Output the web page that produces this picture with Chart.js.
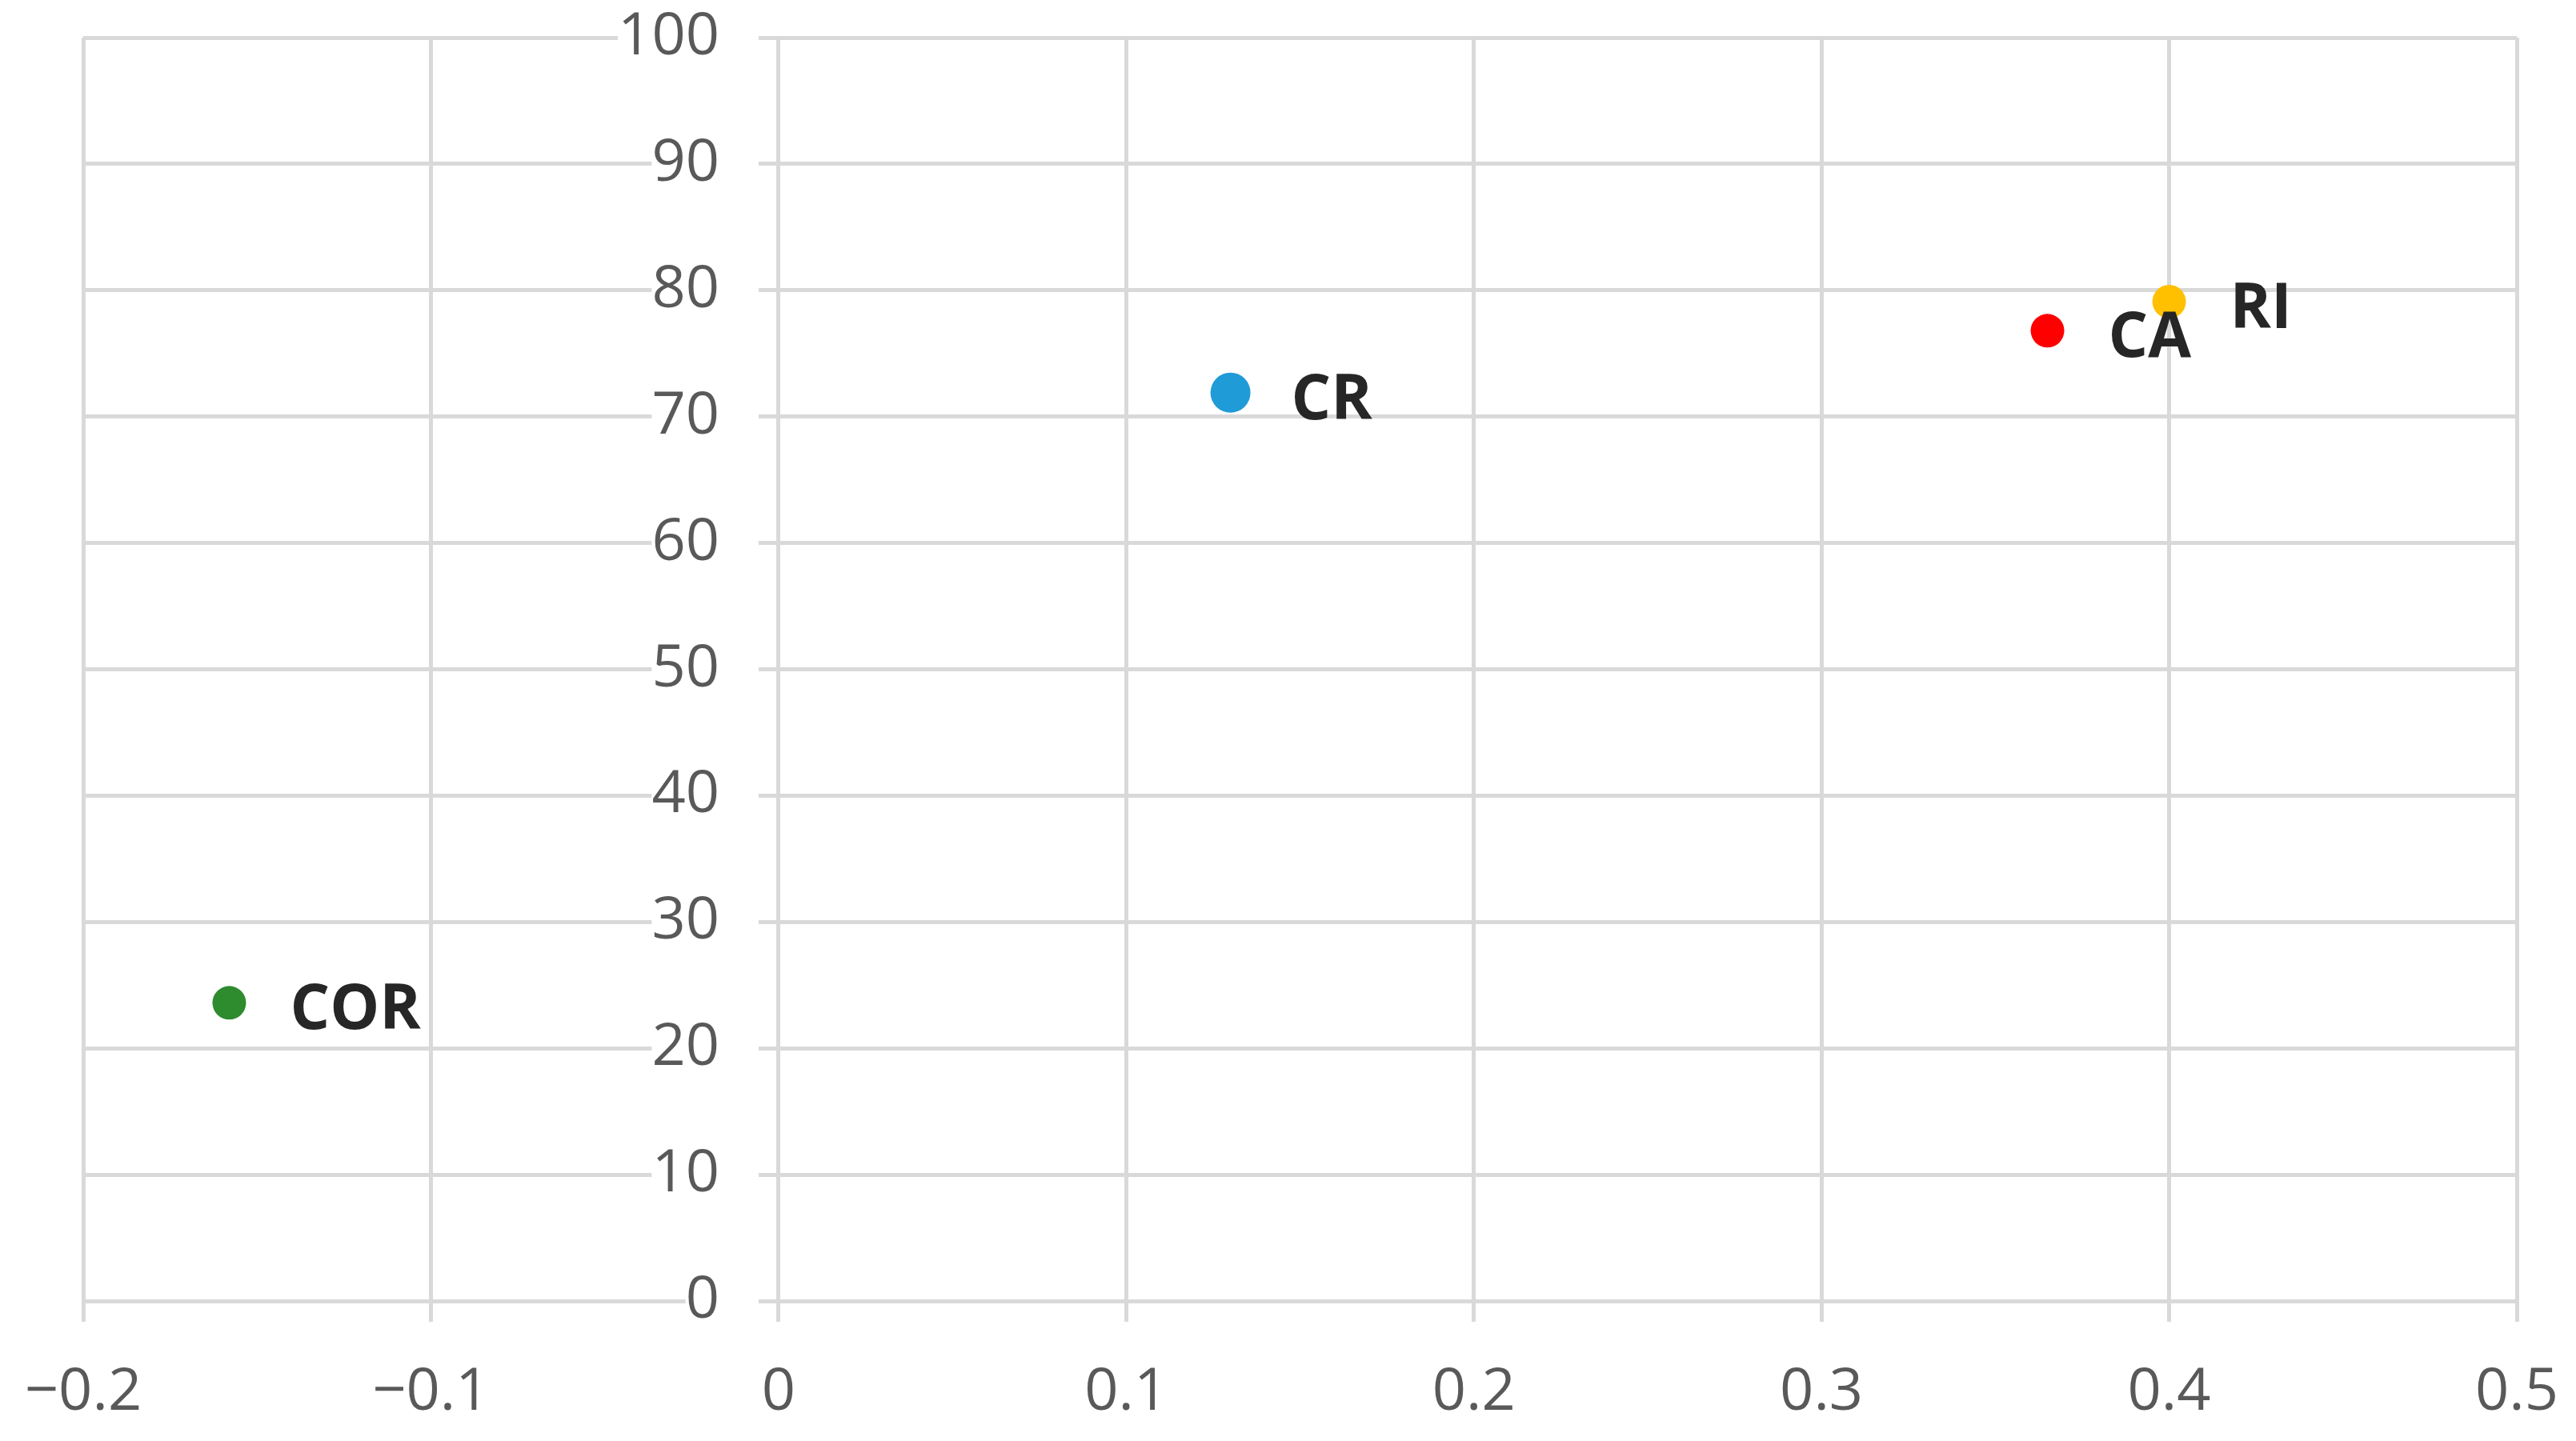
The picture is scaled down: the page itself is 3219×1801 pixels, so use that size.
<!DOCTYPE html>
<html>
<head>
<meta charset="utf-8">
<script src="https://cdn.jsdelivr.net/npm/chart.js@4/dist/chart.umd.min.js"></script>
<style>
  body { margin: 0; background: #fff; }
  #wrap { width: 3219px; height: 1801px; }
</style>
</head>
<body>
<div id="wrap"><canvas id="chart"></canvas></div>
<script>
// point names and values
const names = ['COR', 'CR', 'CA', 'RI'];
const xValues = [-0.158, 0.13, 0.365, 0.4];
const yValues = [23.6, 71.9, 76.8, 79.1];

// axis ranges / steps
const xMin = -0.2, xMax = 0.5, xStep = 0.1;
const yMin = 0, yMax = 100, yStep = 10;

// styles
const colors = ['#2e8b2e', '#1f9bd7', '#ff0000', '#ffc000'];
const radii = [21, 25, 21, 21];

const gridColor = '#d9d9d9';
const tickColor = '#595959';

const datasets = names.map((n, i) => ({
    label: n,
    data: [{x: xValues[i], y: yValues[i]}],
    backgroundColor: colors[i],
    borderWidth: 0,
    pointRadius: radii[i],
    pointHoverRadius: radii[i]
}));

// names next to the points, like excel data labels
const pointNames = {
    id: 'pointNames',
    afterDatasetsDraw(chart) {
        const ctx = chart.ctx;
        ctx.save();
        ctx.font = 'bold 78px "Open Sans"';
        ctx.fillStyle = '#262626';
        ctx.textAlign = 'left';
        ctx.textBaseline = 'alphabetic';
        chart.data.datasets.forEach((ds, i) => {
            const pt = chart.getDatasetMeta(i).data[0];
            ctx.fillText(ds.label, pt.x + 76, pt.y + 33);
        });
        ctx.restore();
    }
};

// no extra padding from the scales, layout.padding decides the plot box
function noPad(s) {
    s.paddingLeft = 0;
    s.paddingRight = 0;
    s.paddingTop = 0;
    s.paddingBottom = 0;
}

const config = {
    type: 'scatter',
    data: {datasets: datasets},
    options: {
        responsive: true,
        maintainAspectRatio: false,
        animation: false,
        layout: {padding: {top: 47, left: 104, right: 74, bottom: 0}},
        plugins: {
            legend: {display: false},
            tooltip: {enabled: false}
        },
        scales: {
            x: {
                type: 'linear',
                min: xMin,
                max: xMax,
                afterFit: s => { s.height = 175; noPad(s); },
                grid: {color: gridColor, lineWidth: 5, tickLength: 26, drawTicks: true},
                border: {color: gridColor, width: 5},
                ticks: {
                    stepSize: xStep,
                    color: tickColor,
                    padding: 45,
                    font: {family: '"Open Sans"', size: 74},
                    callback: v => String(Math.round(v * 10) / 10).replace('-', '\u2212')
                }
            },
            y: {
                type: 'linear',
                min: yMin,
                max: yMax,
                // labels sit a little left of the x=0 line (the x grid draws the line itself)
                position: {x: -0.017},
                afterFit: noPad,
                grid: {color: gridColor, lineWidth: 5, drawTicks: false},
                border: {display: false},
                ticks: {
                    stepSize: yStep,
                    color: tickColor,
                    z: 1,
                    showLabelBackdrop: true,
                    backdropColor: '#ffffff',
                    backdropPadding: {left: 0, right: 49, top: 0, bottom: 0},
                    font: {family: '"Open Sans"', size: 74}
                }
            }
        }
    },
    plugins: [pointNames]
};

var ctx = document.getElementById('chart').getContext('2d');
const myChart = new Chart(ctx, config);
</script>
</body>
</html>
